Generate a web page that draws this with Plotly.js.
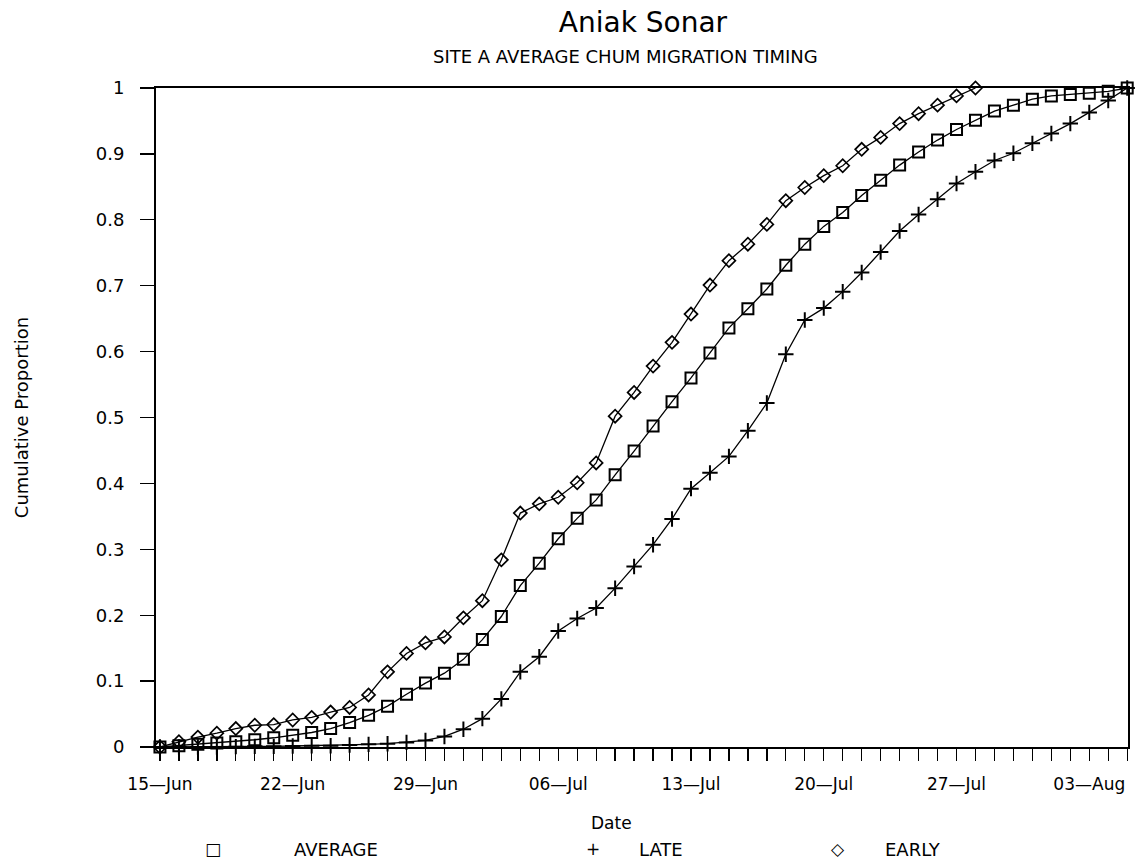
<!DOCTYPE html>
<html>
<head>
<meta charset="utf-8">
<script src="https://cdn.plot.ly/plotly-3.0.1.min.js"></script>
<style>html,body{margin:0;padding:0;background:#fff;}#chart{width:1140px;height:862px;}</style>
</head>
<body>
<div id="chart"></div>
<script>
const dates = [
  '1995-06-15','1995-06-16','1995-06-17','1995-06-18','1995-06-19','1995-06-20','1995-06-21','1995-06-22',
  '1995-06-23','1995-06-24','1995-06-25','1995-06-26','1995-06-27','1995-06-28','1995-06-29','1995-06-30',
  '1995-07-01','1995-07-02','1995-07-03','1995-07-04','1995-07-05','1995-07-06','1995-07-07','1995-07-08',
  '1995-07-09','1995-07-10','1995-07-11','1995-07-12','1995-07-13','1995-07-14','1995-07-15','1995-07-16',
  '1995-07-17','1995-07-18','1995-07-19','1995-07-20','1995-07-21','1995-07-22','1995-07-23','1995-07-24',
  '1995-07-25','1995-07-26','1995-07-27','1995-07-28','1995-07-29','1995-07-30','1995-07-31','1995-08-01',
  '1995-08-02','1995-08-03','1995-08-04','1995-08-05'
];

const average = [0, 0.002, 0.004, 0.006, 0.008, 0.011, 0.014, 0.018, 0.022, 0.028, 0.037, 0.048, 0.062,
  0.080, 0.097, 0.112, 0.133, 0.163, 0.198, 0.245, 0.279, 0.316, 0.347, 0.375, 0.413, 0.449, 0.487, 0.524,
  0.560, 0.598, 0.636, 0.665, 0.695, 0.731, 0.763, 0.790, 0.811, 0.837, 0.860, 0.883, 0.903, 0.921, 0.937,
  0.951, 0.965, 0.974, 0.983, 0.988, 0.990, 0.992, 0.995, 1.0];

const late = [0, 0, 0, 0, 0.0005, 0.001, 0.001, 0.0015, 0.002, 0.002, 0.003, 0.004, 0.005, 0.007, 0.010,
  0.016, 0.027, 0.043, 0.073, 0.114, 0.137, 0.176, 0.195, 0.211, 0.241, 0.274, 0.307, 0.346, 0.392, 0.416,
  0.441, 0.480, 0.522, 0.596, 0.648, 0.666, 0.691, 0.720, 0.751, 0.783, 0.808, 0.831, 0.855, 0.873, 0.890,
  0.901, 0.916, 0.931, 0.946, 0.963, 0.981, 1.0];

const early = [0, 0.008, 0.015, 0.021, 0.028, 0.033, 0.034, 0.041, 0.045, 0.053, 0.060, 0.079, 0.114, 0.142,
  0.158, 0.167, 0.196, 0.222, 0.284, 0.355, 0.369, 0.379, 0.401, 0.431, 0.502, 0.538, 0.578, 0.614, 0.657,
  0.701, 0.738, 0.763, 0.793, 0.829, 0.849, 0.867, 0.882, 0.907, 0.925, 0.946, 0.961, 0.974, 0.988, 1.0];

const seriesNames = ['AVERAGE', 'LATE', 'EARLY'];
const legendSymbols = ['\u25A1', '+', '\u25C7'];
const titleText = 'Aniak Sonar';
const subtitleText = 'SITE A AVERAGE CHUM MIGRATION TIMING';
const xTitle = 'Date';
const yTitle = 'Cumulative Proportion';

const FONT = 'DejaVu Sans, Liberation Sans, sans-serif';
const lineStyle = {color: '#000', width: 1.3};

const traces = [
  {x: dates.slice(0, average.length), y: average, name: seriesNames[0], mode: 'lines+markers', line: lineStyle,
   marker: {symbol: 'square-open', size: 11, color: '#000', line: {width: 2, color: '#000'}}, cliponaxis: false},
  {x: dates.slice(0, late.length), y: late, name: seriesNames[1], mode: 'lines+markers', line: lineStyle,
   marker: {symbol: 'cross-thin-open', size: 11, color: '#000', line: {width: 2, color: '#000'}}, cliponaxis: false},
  {x: dates.slice(0, early.length), y: early, name: seriesNames[2], mode: 'lines+markers', line: lineStyle,
   marker: {symbol: 'diamond-open', size: 10, color: '#000', line: {width: 1.7, color: '#000'}}, cliponaxis: false}
];

const L = 156, R = 1128, T = 88, B = 747;
const px2x = p => (p - L) / (R - L);
const py2y = p => (B - p) / (B - T);

const legendX = [[213, 292], [593, 637], [838, 883]];
const annotations = [];
seriesNames.forEach((n, i) => {
  annotations.push({xref: 'paper', yref: 'paper', x: px2x(legendX[i][0]), y: py2y(849), text: legendSymbols[i],
    showarrow: false, xanchor: 'center', yanchor: 'middle', font: {family: FONT, size: 17, color: '#000'}});
  annotations.push({xref: 'paper', yref: 'paper', x: px2x(legendX[i][1]), y: py2y(849), text: n,
    showarrow: false, xanchor: 'left', yanchor: 'middle', font: {family: FONT, size: 18, color: '#000'}});
});
annotations.push({xref: 'paper', yref: 'paper', x: px2x(625), y: py2y(56), text: subtitleText,
  showarrow: false, xanchor: 'center', yanchor: 'middle', font: {family: FONT, size: 18, color: '#000'}});
annotations.push({xref: 'paper', yref: 'paper', x: px2x(611), y: py2y(823), text: xTitle,
  showarrow: false, xanchor: 'center', yanchor: 'middle', font: {family: FONT, size: 17, color: '#000'}});

const layout = {
  width: 1140, height: 862,
  paper_bgcolor: '#fff', plot_bgcolor: '#fff',
  margin: {l: L, r: 1140 - R, t: T, b: 862 - B},
  showlegend: false,
  font: {family: FONT, color: '#000'},
  title: {text: titleText, font: {family: FONT, size: 28, color: '#000'}, x: 643 / 1140, xanchor: 'center', y: 1 - 22 / 862, yanchor: 'middle'},
  xaxis: {
    type: 'date',
    range: ['1995-06-14 19:00', '1995-08-05 01:00'],
    tick0: '1995-06-15', dtick: 7 * 86400000, tickformat: '%d\u2014%b',
    ticks: 'outside', ticklen: 12, tickwidth: 1.3, tickcolor: '#000',
    minor: {dtick: 86400000, ticks: 'outside', ticklen: 12, tickwidth: 1.3, tickcolor: '#000', showgrid: false},
    showline: true, linecolor: '#000', linewidth: 2, mirror: true,
    showgrid: false, zeroline: false,
    ticklabelstandoff: 9,
    tickfont: {family: FONT, size: 17, color: '#000'}
  },
  yaxis: {
    range: [0, 1], dtick: 0.1, tick0: 0,
    ticks: 'outside', ticklen: 14, tickwidth: 1.3, tickcolor: '#000',
    showline: true, linecolor: '#000', linewidth: 2, mirror: true,
    showgrid: false, zeroline: false,
    ticklabelstandoff: 12,
    tickfont: {family: FONT, size: 18, color: '#000'},
    title: {text: yTitle, font: {family: FONT, size: 18, color: '#000'}, standoff: 62}
  },
  annotations: annotations
};

Plotly.newPlot('chart', traces, layout, {displayModeBar: false, staticPlot: true});
</script>
</body>
</html>
